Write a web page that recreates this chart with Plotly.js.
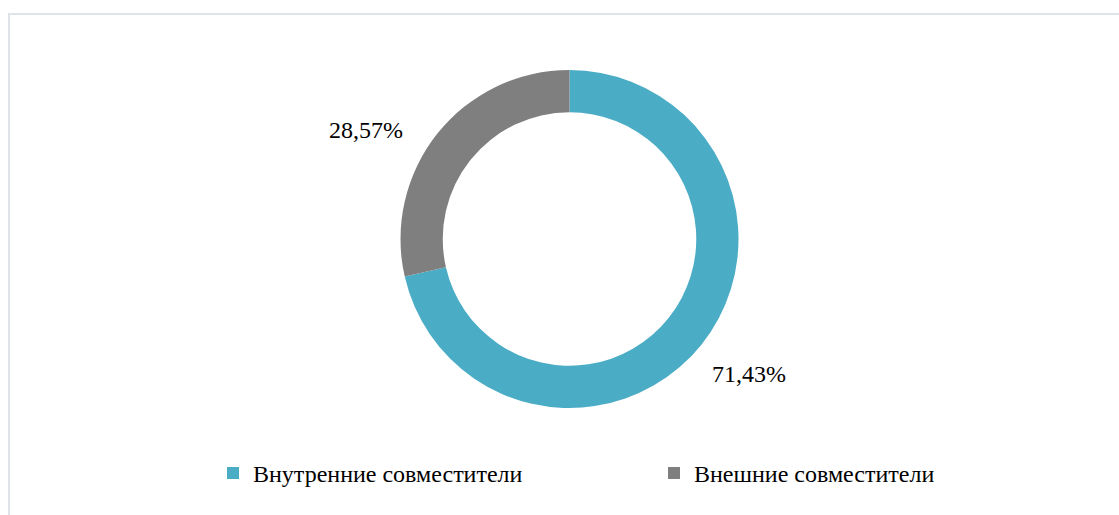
<!DOCTYPE html>
<html>
<head>
<meta charset="utf-8">
<script src="https://cdn.plot.ly/plotly-3.0.1.min.js"></script>
<style>
html,body{margin:0;padding:0;background:#fff;}
#frame{position:absolute;left:8px;top:13px;width:1200px;height:600px;border-left:2px solid #dfe3e8;border-top:2px solid #dfe3e8;}
#chart{position:absolute;left:0;top:0;width:1119px;height:515px;}
</style>
</head>
<body>
<div id="frame"></div>
<div id="chart"></div>
<script>
const categories = ["Внутренние совместители", "Внешние совместители"];
const shares = [71.43, 28.57];
const colors = ["#4bacc6", "#7f7f7f"];

const FONT = "'Liberation Serif', 'Times New Roman', serif";
const W = 1119, H = 515;
const M = {l: 20, r: 0, t: 70, b: 107, autoexpand: false};
const R = (H - M.t - M.b) / 2;          // donut outer radius in px
const CX = M.l + (W - M.l - M.r) / 2;   // donut centre in px
const CY = M.t + R;

// label positions derived from each slice's mid-angle
const total = shares.reduce((a, b) => a + b, 0);
let cum = 0;
const annotations = shares.map((v, i) => {
  const mid = (cum + v / 2) / total * 2 * Math.PI; // clockwise from 12 o'clock
  cum += v;
  const d = R * 1.155;
  const px = CX + d * Math.sin(mid) - 12;
  const py = CY - d * Math.cos(mid) + 13;
  return {
    xref: "paper", yref: "paper",
    x: (px - M.l) / (W - M.l - M.r),
    y: 1 - (py - M.t) / (H - M.t - M.b),
    xanchor: Math.sin(mid) >= 0 ? "left" : "right",
    yanchor: "middle",
    showarrow: false,
    text: v.toFixed(2).replace(".", ",") + "%",
    font: {family: FONT, size: 24, color: "#000"}
  };
});

const data = [{
  type: "pie",
  labels: categories,
  values: shares,
  hole: 0.75,
  sort: false,
  direction: "clockwise",
  rotation: 0,
  marker: {colors: colors, line: {width: 0}},
  textinfo: "none",
  hoverinfo: "none",
  automargin: false
}];

const layout = {
  width: W,
  height: H,
  margin: M,
  paper_bgcolor: "rgba(0,0,0,0)",
  plot_bgcolor: "rgba(0,0,0,0)",
  showlegend: true,
  annotations: annotations,
  legend: {
    orientation: "h",
    xref: "paper",
    x: (213 - M.l) / (W - M.l - M.r),
    xanchor: "left",
    y: -0.127,
    yanchor: "top",
    entrywidth: 396,
    entrywidthmode: "pixels",
    font: {family: FONT, size: 24, color: "#000"},
    itemclick: false,
    bgcolor: "rgba(0,0,0,0)"
  }
};

Plotly.newPlot("chart", data, layout, {displayModeBar: false, staticPlot: true});
</script>
</body>
</html>
